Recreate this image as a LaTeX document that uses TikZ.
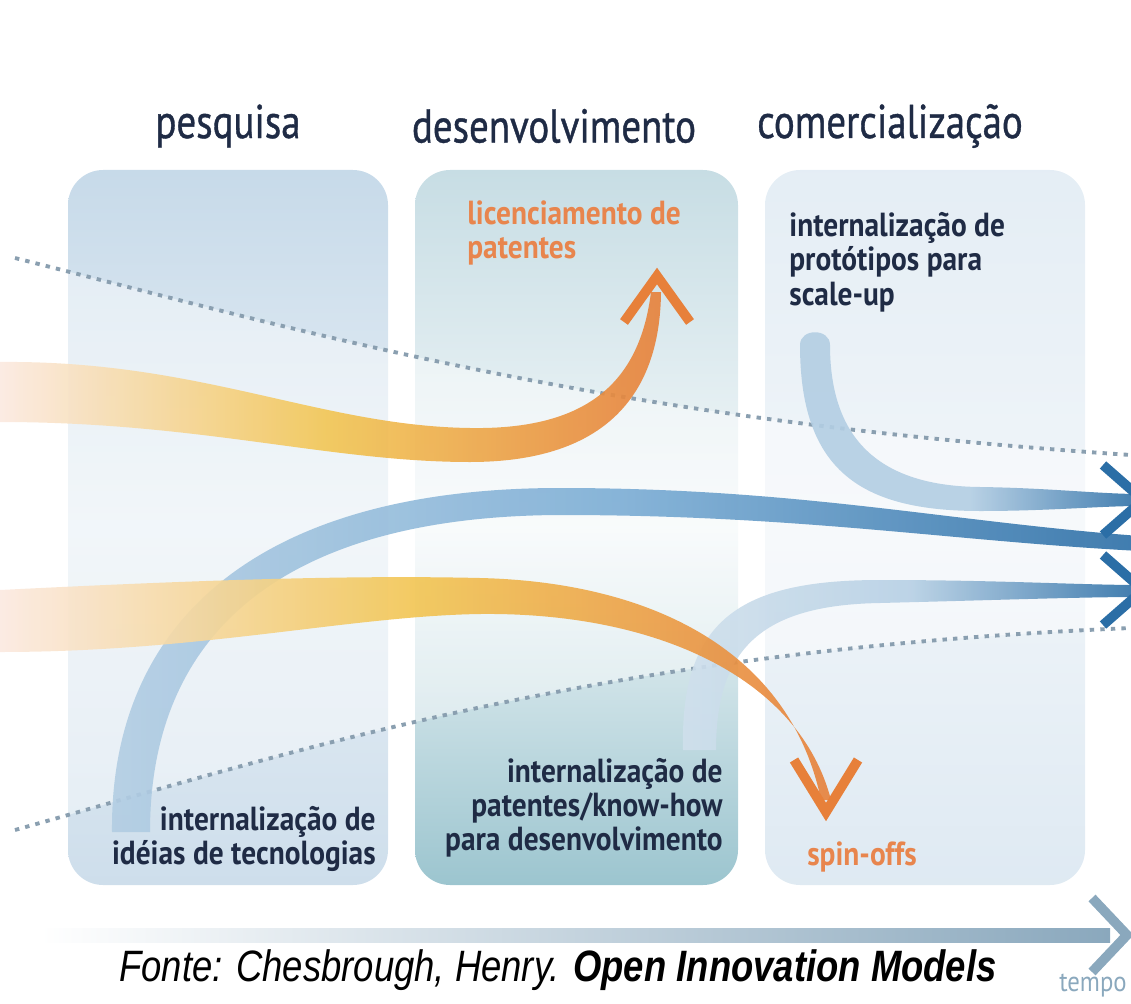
\documentclass[tikz,border=0pt]{standalone}
\usepackage{fontspec}
\setmainfont{PT Sans}
\newfontfamily\headfont[FakeStretch=0.82, FakeBold=0.8]{PT Sans}
\newfontfamily\labelfont[FakeStretch=0.88]{PT Sans}
\newfontfamily\srcfont[FakeStretch=0.83]{Liberation Sans}
\usetikzlibrary{positioning}

\definecolor{navy}{HTML}{1F2B45}
\definecolor{lblorange}{HTML}{E8854D}
\definecolor{arrorange}{HTML}{E7803A}
\definecolor{arryellow}{HTML}{F2C552}
\definecolor{arrpeach}{HTML}{FBE9E0}
\definecolor{arrblue}{HTML}{2B6EA6}
\definecolor{midblue}{HTML}{6EA5D1}
\definecolor{paleblue}{HTML}{C4D8E8}
\definecolor{dotgray}{HTML}{8A9FB0}
\definecolor{timegray}{HTML}{8AA8BD}
\definecolor{devtop}{HTML}{C7DDE4}
\definecolor{devbot}{HTML}{9CC5CF}

\tikzset{
  panel/.style={rounded corners=20pt},
  heading/.style={text=navy, font=\headfont\fontsize{27}{31}\selectfont},
  boxtext/.style={text=navy, inner sep=0pt, font=\labelfont\fontsize{19}{19.5}\selectfont\bfseries},
  funnel/.style={dotgray, line width=2.2pt, dash pattern=on 2.5pt off 3.5pt},
  chevron/.style={line width=5.5pt, line join=miter}
}

\begin{document}
\begin{tikzpicture}[x=0.02cm,y=-0.02cm]
    \useasboundingbox (0,0) rectangle (1131,1003);

    % panels
    \shade[panel, top color=paleblue!95!white, bottom color=paleblue!85!arrblue!60!white, middle color=paleblue!40!white]
      (68,170) rectangle (388,885);
    \shade[panel, top color=devtop, bottom color=devbot, middle color=devtop!20!white]
      (415,170) rectangle (738,885);
    \shade[panel, top color=paleblue!45!white, bottom color=paleblue!55!white, middle color=paleblue!25!white]
      (765,170) rectangle (1085,885);

    % light inside the funnel
    \fill[white, opacity=0.45] (15,258) .. controls (300,330) and (600,420) .. (1131,455)
      -- (1131,628) .. controls (600,650) and (300,750) .. (15,830) -- cycle;
    \draw[funnel] (15,258) coordinate (ftl) .. controls (300,330) and (600,420) .. (1131,455) coordinate (ftr);
    \draw[funnel] (15,830) coordinate (fbl) .. controls (300,750) and (600,650) .. (1131,628) coordinate (fbr);

    % blue flows
    \shade[left color=paleblue!80!midblue, right color=arrblue, middle color=midblue!85!paleblue, opacity=0.9]
      (112,832) .. controls (110,620) and (260,488) .. (560,488) .. controls (800,488) and (950,522) .. (1140,536)
      -- (1140,551) .. controls (950,541) and (800,515) .. (560,515) .. controls (300,516) and (150,620) .. (150,832) -- cycle;
    \shade[left color=paleblue!80!midblue, right color=arrblue, middle color=paleblue!80!midblue, opacity=0.9]
      (800,345) .. controls (800,470) and (860,511) .. (980,511) .. controls (1050,511) and (1100,506) .. (1140,506)
      -- (1140,494) .. controls (1100,494) and (1050,488) .. (980,487) .. controls (880,486) and (830,440) .. (830,345)
      .. controls (830,328) and (800,328) .. (800,345) -- cycle;
    \shade[left color=paleblue!80!white, right color=arrblue, middle color=paleblue!85!midblue, opacity=0.9]
      (683,750) .. controls (680,620) and (740,580) .. (880,580) .. controls (1000,580) and (1080,585) .. (1140,585)
      -- (1140,597) .. controls (1080,597) and (1000,600) .. (880,603) .. controls (760,605) and (716,650) .. (716,750) -- cycle;
    \draw[chevron, arrblue] (1103,465) -- (1143,500) coordinate (tipa) -- (1103,535);
    \draw[chevron, arrblue] (1103,555) -- (1143,590) coordinate (tipb) -- (1103,625);

    % orange flows
    \shade[left color=arrpeach, right color=arrorange, middle color=arryellow, opacity=0.9]
      (0,362) .. controls (200,360) and (320,426) .. (470,428) .. controls (590,430) and (640,380) .. (651,292)
      -- (661,292) .. controls (660,400) and (600,462) .. (470,462) .. controls (330,462) and (200,422) .. (0,422) -- cycle;
    \draw[chevron, arrorange] (624,322) -- (657,276) coordinate (tiplic) -- (690,322);
    \shade[left color=arrpeach, right color=arrorange, middle color=arryellow, opacity=0.9]
      (0,590) .. controls (200,580) and (350,575) .. (480,578) .. controls (650,582) and (790,650) .. (821,800)
      -- (831,800) .. controls (800,680) and (660,612) .. (480,614) .. controls (350,616) and (200,652) .. (0,652) -- cycle;
    \draw[chevron, arrorange] (794,760) -- (826,812) coordinate (tipspin) -- (858,760);

    % headings
    \node[heading] (pesq) at (228,126) {pesquisa};
    \node[heading] (desenv) at (554,126) {desenvolvimento};
    \node[heading] (comerc) at (890,126) {comercialização};

    % box texts
    \node[boxtext, text=lblorange, align=left, anchor=north west] (licenc) at (467,200) {licenciamento de\\patentes};
    \node[boxtext, align=left, anchor=north west] (scaleup) at (789,212) {internalização de\\protótipos para\\scale-up};
    \node[boxtext, align=right, anchor=south east] (ideias) at (376,872) {internalização de\\idéias de tecnologias};
    \node[boxtext, align=right, anchor=south east] (knowhow) at (723,858) {internalização de\\patentes/know-how\\para desenvolvimento};
    \node[boxtext, text=lblorange] (spin) at (862,857) {spin-offs};

    % time axis
    \shade[left color=white, right color=timegray] (40,928) rectangle (1110,942);
    \draw[chevron, timegray] (1092,898) -- (1127,935) coordinate (tiptime) -- (1092,972);
    \node[text=timegray, inner sep=0pt, anchor=east, font=\labelfont\fontsize{16}{18}\selectfont] (tempo) at (1127,986) {tempo};

    % source
    \node[font=\srcfont\fontsize{25}{30}\selectfont] (fonte) at (558,970)
      {\itshape Fonte: Chesbrough, Henry. \bfseries Open Innovation Models};
\end{tikzpicture}
\end{document}
